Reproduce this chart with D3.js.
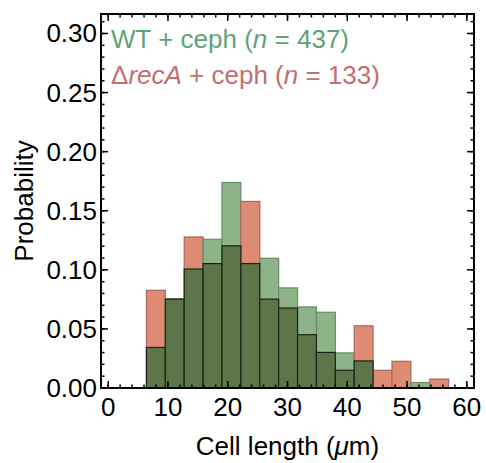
<!DOCTYPE html>
<html>
<head>
<meta charset="utf-8">
<script src="https://cdn.jsdelivr.net/npm/d3@7"></script>
<style>
  body { margin: 0; background: white; }
  text { font-family: "Liberation Sans", Arial, sans-serif; }
</style>
</head>
<body>
<div id="GraphHolder"></div>
<script>
// bin edges (cell length, um)
var binEdges = [6.4, 9.56, 12.72, 15.88, 19.04, 22.2, 25.36, 28.52, 31.68,
                34.84, 38.0, 41.16, 44.32, 47.48, 50.64, 53.8, 56.96];
// probability per bin
var wtProb   = [0.0343, 0.0755, 0.1007, 0.1259, 0.1739, 0.1053, 0.1098, 0.0847,
                0.0686, 0.0641, 0.0297, 0.0229, 0, 0, 0.0046, 0];
var recAProb = [0.0827, 0.0752, 0.1278, 0.1053, 0.1203, 0.1579, 0.0752, 0.0677,
                0.0451, 0.0301, 0.0150, 0.0526, 0.0150, 0.0226, 0, 0.0075];
var xTicks = [0, 10, 20, 30, 40, 50, 60];
var yTicks = [0.00, 0.05, 0.10, 0.15, 0.20, 0.25, 0.30];

var W = 486, H = 463;
var frame = {left: 101, right: 474, top: 14, bottom: 388};

var svg = d3.select("#GraphHolder").append("svg")
    .attr("width", W)
    .attr("height", H);

var x = d3.scaleLinear().domain([-1.2, 61.2]).range([frame.left, frame.right]);
var y = d3.scaleLinear().domain([0, 0.3165]).range([frame.bottom, frame.top]);

var green = "#8db489", red = "#dd8b73", dark = "#5e754a";

// build bins from the arrays
var bins = wtProb.map(function(w, i) {
    var r = recAProb[i];
    return {x0: binEdges[i], x1: binEdges[i + 1], wt: w, rec: r,
            hi: Math.max(w, r), lo: Math.min(w, r),
            hiColor: w >= r ? green : red,
            hiStroke: w >= r ? "#6a8a68" : "#a8685a"};
});

// taller series, light colour
svg.selectAll(".hi")
    .data(bins.filter(function(d) { return d.hi > 0; }))
    .enter().append("rect")
    .attr("class", "hi")
    .attr("x", function(d) { return x(d.x0); })
    .attr("width", function(d) { return x(d.x1) - x(d.x0); })
    .attr("y", function(d) { return y(d.hi); })
    .attr("height", function(d) { return y(0) - y(d.hi); })
    .style("fill", function(d) { return d.hiColor; })
    .style("stroke", function(d) { return d.hiStroke; })
    .style("stroke-width", 1.2);

// overlap, dark
svg.selectAll(".lo")
    .data(bins.filter(function(d) { return d.lo > 0; }))
    .enter().append("rect")
    .attr("class", "lo")
    .attr("x", function(d) { return x(d.x0); })
    .attr("width", function(d) { return x(d.x1) - x(d.x0); })
    .attr("y", function(d) { return y(d.lo); })
    .attr("height", function(d) { return y(0) - y(d.lo); })
    .style("fill", dark)
    .style("stroke", "#1b2414")
    .style("stroke-width", 1.2);

// frame ticks on all sides
var xMinor = d3.range(0, 61, 2);
var yMinor = d3.range(0, 0.3101, 0.01);
function tickLines(sel, vals, len, horiz) {
    vals.forEach(function(v) {
        if (horiz) {
            sel.append("line").attr("x1", x(v)).attr("x2", x(v))
                .attr("y1", frame.bottom).attr("y2", frame.bottom - len);
            sel.append("line").attr("x1", x(v)).attr("x2", x(v))
                .attr("y1", frame.top).attr("y2", frame.top + len);
        } else {
            sel.append("line").attr("y1", y(v)).attr("y2", y(v))
                .attr("x1", frame.left).attr("x2", frame.left + len);
            sel.append("line").attr("y1", y(v)).attr("y2", y(v))
                .attr("x1", frame.right).attr("x2", frame.right - len);
        }
    });
}
var ticks = svg.append("g").style("stroke", "black").style("stroke-width", 1.5);
tickLines(ticks, xMinor, 3.5, true);
tickLines(ticks, xTicks, 7, true);
tickLines(ticks, yMinor, 3.5, false);
tickLines(ticks, yTicks, 7, false);

svg.append("rect")
    .attr("x", frame.left).attr("y", frame.top)
    .attr("width", frame.right - frame.left)
    .attr("height", frame.bottom - frame.top)
    .style("fill", "none").style("stroke", "black").style("stroke-width", 2);

// tick labels
svg.selectAll(".xlab").data(xTicks).enter().append("text")
    .attr("x", function(d) { return x(d); })
    .attr("y", 416)
    .attr("text-anchor", "middle")
    .style("font-size", "26px")
    .text(function(d) { return d; });

svg.selectAll(".ylab").data(yTicks).enter().append("text")
    .attr("x", 97)
    .attr("y", function(d) { return y(d) + 9; })
    .attr("text-anchor", "end")
    .style("font-size", "26px")
    .text(function(d) { return d.toFixed(2); });

// axis titles
var xt = svg.append("text")
    .attr("x", (frame.left + frame.right) / 2)
    .attr("y", 455)
    .attr("text-anchor", "middle")
    .style("font-size", "26px");
xt.append("tspan").text("Cell length (");
xt.append("tspan").style("font-style", "italic").text("\u03bc");
xt.append("tspan").text("m)");

svg.append("text")
    .attr("transform", "translate(33," + ((frame.top + frame.bottom) / 2) + ") rotate(-90)")
    .attr("text-anchor", "middle")
    .style("font-size", "26px")
    .text("Probability");

// legend
var l1 = svg.append("text").attr("x", 111).attr("y", 48)
    .style("font-size", "26px").style("fill", "#5fa27c");
l1.append("tspan").text("WT + ceph (");
l1.append("tspan").style("font-style", "italic").text("n");
l1.append("tspan").text(" = 437)");

var l2 = svg.append("text").attr("x", 111).attr("y", 84)
    .style("font-size", "26px").style("fill", "#c26f6f");
l2.append("tspan").text("\u0394");
l2.append("tspan").style("font-style", "italic").text("recA");
l2.append("tspan").text(" + ceph (");
l2.append("tspan").style("font-style", "italic").text("n");
l2.append("tspan").text(" = 133)");
</script>
</body>
</html>
